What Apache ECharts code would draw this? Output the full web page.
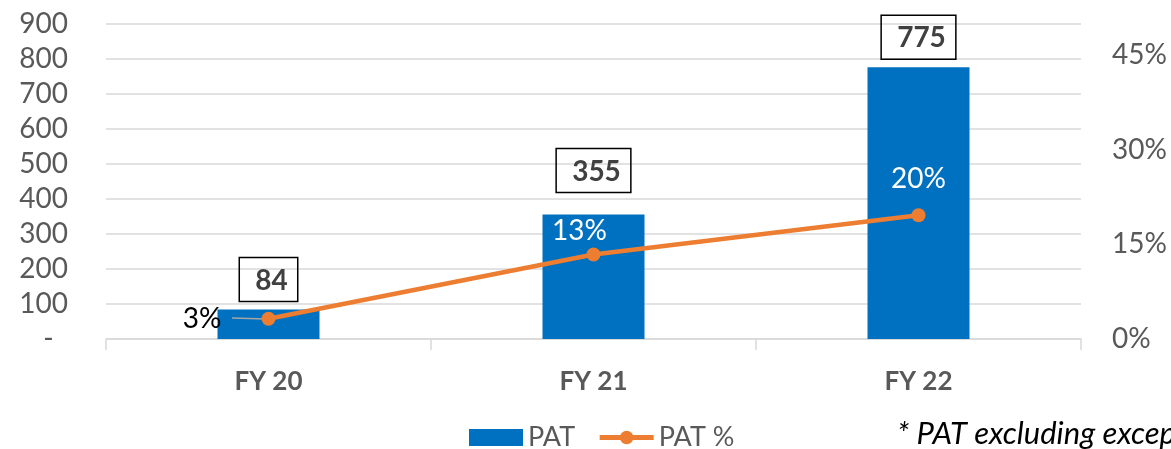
<!DOCTYPE html>
<html>
<head>
<meta charset="utf-8">
<script src="https://cdn.jsdelivr.net/npm/echarts@6/dist/echarts.min.js"></script>
<style>
  html, body { margin: 0; padding: 0; background: #fff; }
  #chart { width: 1171px; height: 449px; }
</style>
</head>
<body>
<div id="chart"></div>
<script>
// data
const years = ['FY 20', 'FY 21', 'FY 22']
const pat = [84, 355, 775]
const patPct = [3.2, 13.4, 19.6]
const leftTicks = [0, 100, 200, 300, 400, 500, 600, 700, 800, 900]
const rightTicks = [0, 15, 30, 45]

const font = 'Lato, "Open Sans", sans-serif'
const grey = '#595959'

let myChart = echarts.init(document.getElementById('chart'))

let option = {
    animation: false,
    grid: { left: 106, right: 90, top: 23.5, bottom: 110 },
    legend: {
        left: 464,
        top: 419,
        itemWidth: 54,
        itemHeight: 17,
        itemGap: 22,
        textStyle: { fontFamily: font, fontSize: 27, color: grey, padding: [0, 0, 0, 0] },
        data: [
            { name: 'PAT', icon: 'rect' },
            { name: 'PAT %', lineStyle: { width: 5 } }
        ]
    },
    xAxis: {
        type: 'category',
        data: years,
        axisLine: { lineStyle: { color: '#d9d9d9', width: 1.5 } },
        axisTick: { show: true, length: 11, lineStyle: { color: '#d9d9d9', width: 1.5 } },
        axisLabel: { margin: 30, fontFamily: font, fontSize: 26, fontWeight: 'bold', color: grey }
    },
    yAxis: [
        {
            type: 'value',
            min: 0,
            max: 900,
            interval: 100,
            axisLine: { show: false },
            axisTick: { show: false },
            splitLine: { lineStyle: { color: '#d9d9d9', width: 1.5 } },
            axisLabel: {
                margin: 38,
                fontFamily: font,
                fontSize: 28,
                color: grey,
                formatter: v => leftTicks.indexOf(v) < 0 ? '' : (v === 0 ? '-  ' : String(v))
            }
        },
        {
            type: 'value',
            min: 0,
            max: 50,
            interval: 15,
            axisLine: { show: false },
            axisTick: { show: false },
            splitLine: { show: false },
            axisLabel: {
                margin: 31,
                fontFamily: font,
                fontSize: 28,
                color: grey,
                formatter: v => rightTicks.indexOf(v) < 0 ? '' : v + '%'
            }
        }
    ],
    series: [
        {
            name: 'PAT',
            type: 'bar',
            data: pat.map((v, i) => i === 1 ? { value: v, label: { distance: 22 } } : v),
            barWidth: 102,
            itemStyle: { color: '#0070C0' },
            label: {
                show: true,
                position: 'top',
                distance: 8,
                fontFamily: font,
                fontSize: 28,
                fontWeight: 'bold',
                color: '#404040',
                borderColor: '#000',
                borderWidth: 1.5,
                padding: [9, 10, 7, 16]
            }
        },
        {
            name: 'PAT %',
            type: 'line',
            yAxisIndex: 1,
            data: patPct.map((v, i) => {
                if (i === 0) {
                    return {
                        value: v,
                        label: { position: 'left', distance: 40, color: '#000' }
                    }
                }
                if (i === 1) {
                    return { value: v, label: { position: 'top', offset: [-14, 3] } }
                }
                return { value: v, label: { position: 'top', offset: [0, -10] } }
            }),
            symbol: 'circle',
            symbolSize: 14,
            lineStyle: { color: '#ED7D31', width: 4.5 },
            itemStyle: { color: '#ED7D31' },
            label: {
                show: true,
                fontFamily: font,
                fontSize: 28,
                color: '#fff',
                formatter: p => Math.round(p.value) + '%'
            },
            z: 5
        }
    ],
    graphic: [
        {
            type: 'line',
            shape: { x1: 232, y1: 318, x2: 266, y2: 319 },
            style: { stroke: '#a6a6a6', lineWidth: 1.5 },
            z: 4
        },
        {
            type: 'text',
            left: 897,
            top: 418,
            style: {
                text: '* PAT excluding exceptional items',
                font: 'italic 31px ' + font,
                fill: '#000'
            }
        }
    ]
}

myChart.setOption(option)
</script>
</body>
</html>
